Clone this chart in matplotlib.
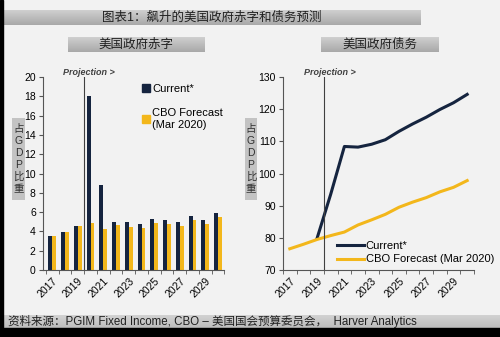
import numpy as np
import matplotlib
matplotlib.use("Agg")
import matplotlib.pyplot as plt
from matplotlib.patches import Patch, Rectangle

plt.rcParams['font.family'] = ['Liberation Sans', 'Noto Sans CJK SC', 'DejaVu Sans']

years = list(range(2017, 2031))
deficit_current = [3.5, 3.9, 4.6, 18.0, 8.8, 5.0, 5.0, 4.8, 5.3, 5.2, 5.0, 5.6, 5.2, 5.9]
deficit_cbo = [3.5, 3.9, 4.6, 4.9, 4.3, 4.7, 4.5, 4.4, 4.9, 4.8, 4.6, 5.2, 4.8, 5.5]
debt_current = [np.nan, np.nan, 79.9, 93.6, 108.4, 108.2, 109.1, 110.5, 113.1, 115.4, 117.5, 119.9, 122.0, 124.6]
debt_cbo = [76.6, 78.0, 79.5, 80.7, 81.8, 84.0, 85.6, 87.3, 89.5, 91.1, 92.5, 94.3, 95.7, 97.8]

title = "图表1：飙升的美国政府赤字和债务预测"
left_title = "美国政府赤字"
right_title = "美国政府债务"
ylab = "占\nG\nD\nP\n比\n重"
source = "资料来源：PGIM Fixed Income, CBO – 美国国会预算委员会，  Harver Analytics"

navy = "#15243f"
gold = "#f3b71b"
bg = "#f2f2f2"
W, H = 500, 337

fig = plt.figure(figsize=(W / 100, H / 100), dpi=100, facecolor=bg)


def px_axes(x0, y0, x1, y1, **kw):
    # pixel box (top-left origin) -> figure axes
    return fig.add_axes([x0 / W, 1 - y1 / H, (x1 - x0) / W, (y1 - y0) / H], **kw)


def gbox(x0, y0, x1, y1, top="#cfcfcf", bottom="#a9a9a9"):
    a = px_axes(x0, y0, x1, y1)
    c0 = np.array(matplotlib.colors.to_rgb(top))
    c1 = np.array(matplotlib.colors.to_rgb(bottom))
    t = np.linspace(0, 1, 32)[:, None, None]
    img = c0 * (1 - t) + c1 * t
    a.imshow(np.repeat(img, 2, axis=1), aspect='auto', extent=[0, 1, 0, 1])
    a.axis('off')
    return a


# black frame edges
fig.patches.append(Rectangle((0, 0), 3 / W, 1, transform=fig.transFigure, color='black'))
fig.patches.append(Rectangle((0, 0), 1, 9 / H, transform=fig.transFigure, color='black'))

# title bars
t = gbox(3, 10, 421, 25)
t.text(0.5, 0.5, title, ha='center', va='center', fontsize=9, color='#202020')
t = gbox(68, 37, 204, 52)
t.text(0.5, 0.5, left_title, ha='center', va='center', fontsize=9, color='#202020')
t = gbox(321, 37, 439, 52)
t.text(0.5, 0.5, right_title, ha='center', va='center', fontsize=9, color='#202020')
t = gbox(3, 315, 500, 328, top="#d2d2d2", bottom="#bdbdbd")
t.text(0.01, 0.5, source, ha='left', va='center', fontsize=8.3, color='#202020')

# y label boxes
for x0, x1 in [(12, 25), (245, 257)]:
    a = px_axes(x0, 118, x1, 200)
    a.set_facecolor('#c3c3c3')
    a.set_xticks([]); a.set_yticks([])
    for s in a.spines.values():
        s.set_visible(False)
    a.text(0.5, 0.5, ylab, ha='center', va='center', fontsize=7.5, linespacing=1.25, color='#303030')

x = np.arange(len(years))
labels = [str(y) if (y - 2017) % 2 == 0 else "" for y in years]


def style(ax):
    ax.set_facecolor(bg)
    for s in ['top', 'right']:
        ax.spines[s].set_visible(False)
    for s in ['left', 'bottom']:
        ax.spines[s].set_color('#555555')
        ax.spines[s].set_linewidth(0.8)
    ax.set_xticks(x)
    ax.set_xticklabels(labels, rotation=45, ha='right', rotation_mode='anchor', fontsize=7.5)
    ax.set_xticks(np.arange(-0.5, len(years)), minor=True)
    ax.tick_params(axis='x', which='major', length=0, pad=4)
    ax.tick_params(axis='x', which='minor', length=3, color='#555555')
    ax.tick_params(axis='y', length=3, color='#555555', labelsize=7.5, pad=2)
    ax.axvline(2.5, color='#404040', lw=0.8)
    ax.text(2.9, 1.0, "Projection >", transform=ax.get_xaxis_transform(), ha='center', va='bottom',
            fontsize=6.5, style='italic', fontweight='bold', color='#404040')


# left: deficit bars
ax1 = px_axes(42.7, 77, 224.4, 270)
bw = 0.31
ax1.bar(x - bw / 2, deficit_current, bw, color=navy)
ax1.bar(x + bw / 2, deficit_cbo, bw, color=gold)
ax1.set_ylim(0, 20)
ax1.set_yticks(range(0, 21, 2))
ax1.set_xlim(-0.75, 13.5)
style(ax1)
ax1.legend(handles=[Patch(color=navy), Patch(color=gold)], labels=["Current*", "CBO Forecast\n(Mar 2020)"],
           loc='upper left', bbox_to_anchor=(0.51, 1.0), frameon=False, fontsize=8,
           handlelength=0.7, handleheight=0.7, handletextpad=0.2, labelspacing=1.3, borderaxespad=0.2)

# right: debt lines
ax2 = px_axes(283, 77, 474, 270)
ax2.plot(x, debt_current, color=navy, lw=2.2, label="Current*")
ax2.plot(x, debt_cbo, color=gold, lw=2.2, label="CBO Forecast (Mar 2020)")
ax2.set_ylim(70, 130)
ax2.set_yticks(range(70, 131, 10))
ax2.set_xlim(-0.5, 13.5)
style(ax2)
ax2.legend(loc='lower left', bbox_to_anchor=(0.255, 0.0), frameon=False, fontsize=8,
           handlelength=2.4, handletextpad=0.15, labelspacing=0.35, borderaxespad=0.1)

fig.savefig("out.png", dpi=100, facecolor=bg)
